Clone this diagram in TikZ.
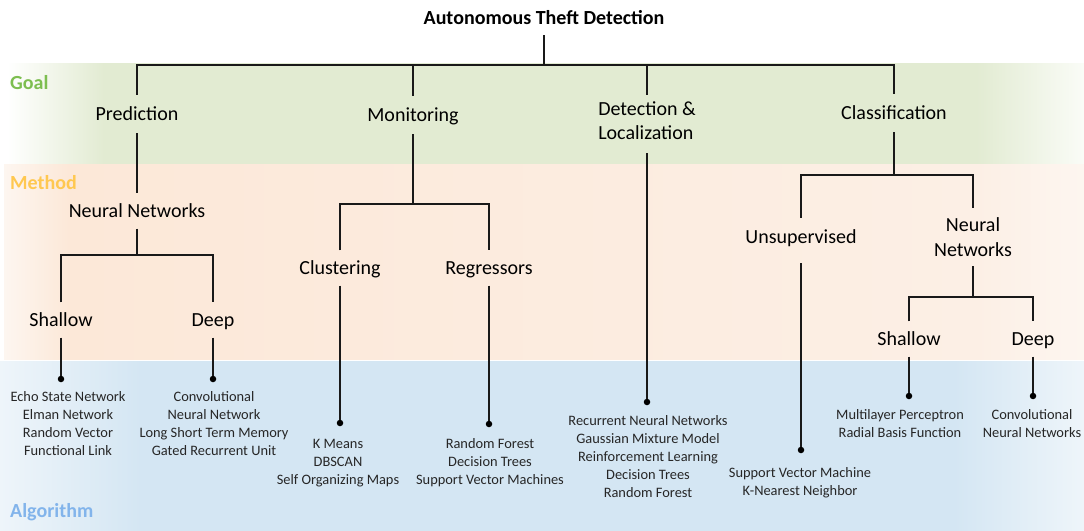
\documentclass[tikz,border=0pt]{standalone}
\usepackage{fontspec}
\setmainfont{Carlito}
\definecolor{goalc}{RGB}{125,190,80}
\definecolor{methodc}{RGB}{255,200,80}
\definecolor{algoc}{RGB}{130,180,235}
\definecolor{goalband}{RGB}{226,235,210}
\definecolor{goalfade}{RGB}{250,252,247}
\definecolor{methodL}{RGB}{252,232,216}
\definecolor{methodR}{RGB}{252,239,229}
\definecolor{methodfade}{RGB}{253,246,240}
\definecolor{algoband}{RGB}{212,230,243}
\definecolor{algofade}{RGB}{238,245,250}
% horizontal colour runs of the three bands; TikZ maps 25bp..75bp onto the band's width
\pgfdeclarehorizontalshading{goalsh}{100bp}{color(0bp)=(white); color(25bp)=(white); color(29.5bp)=(goalband); color(70bp)=(goalband); color(75bp)=(goalfade); color(100bp)=(goalfade)}
\pgfdeclarehorizontalshading{methodsh}{100bp}{color(0bp)=(methodfade); color(25bp)=(methodfade); color(28bp)=(methodL); color(70bp)=(methodR); color(75bp)=(methodfade); color(100bp)=(methodfade)}
\pgfdeclarehorizontalshading{algosh}{100bp}{color(0bp)=(algofade); color(25bp)=(algofade); color(31.5bp)=(algoband); color(69bp)=(algoband); color(75bp)=(algofade); color(100bp)=(algofade)}
\begin{document}
\begin{tikzpicture}[x=1pt,y=-1pt,
  conn/.style={draw=black!90,line width=1.7pt},
  ttl/.style={inner sep=0,font=\fontsize{20}{24}\bfseries\selectfont,text height=15pt,text depth=2pt,minimum height=34pt},
  goal/.style={inner sep=0,font=\fontsize{20}{24}\selectfont,text height=15pt,text depth=2pt,minimum height=38pt},
  mid/.style={inner sep=0,font=\fontsize{20}{24}\selectfont,text height=15pt,text depth=2pt,minimum height=35pt},
  twoline/.style={inner sep=0,font=\fontsize{20}{24}\selectfont,minimum height=58pt},
  leaf/.style={inner sep=0,align=center,font=\fontsize{14.4}{18}\selectfont,text=black!85},
  dot/.style={circle,fill=black,inner sep=0,minimum size=6.5pt},
  bandlbl/.style={inner sep=0,anchor=west,font=\fontsize{20}{24}\bfseries\selectfont}]
\useasboundingbox (0,0) rectangle (1084,530);

% background bands
\shade[shading=goalsh] (7,63) rectangle (1084,163);
\shade[shading=methodsh] (4,164.5) rectangle (1084,359);
\shade[shading=algosh] (0,361) rectangle (1084,530);

% band labels
\node[bandlbl,text=goalc] (lgoal) at (10,83) {Goal};
\node[bandlbl,text=methodc] (lmethod) at (10,183) {Method};
\node[bandlbl,text=algoc] (lalgo) at (10,512) {Algorithm};

% root and goals
\node[ttl] (title) at (544,18) {Autonomous Theft Detection};
\coordinate (top) at (544,65);
\node[goal] (pred) at (137,114) {Prediction};
\node[goal] (mon) at (413,115) {Monitoring};
\node[twoline,align=left,minimum height=52pt] (det) at (647,121) {Detection \&\\Localization};
\node[goal] (cls) at (894,113) {Classification};
\draw[conn] (title) -- (top);
\draw[conn] (pred.north) |- (top) -| (cls.north);
\draw[conn] (mon.north) -- (mon.north |- top);
\draw[conn] (det.north) -- (det.north |- top);

% prediction branch
\node[mid] (nn1) at (137,211) {Neural Networks};
\coordinate (b1) at (137,255);
\node[mid] (sh1) at (61,320) {Shallow};
\node[mid] (dp1) at (213,320) {Deep};
\draw[conn] (pred) -- (nn1);
\draw[conn] (nn1) -- (b1);
\draw[conn] (sh1.north) |- (b1) -| (dp1.north);
\node[dot] (d1) at (61,379) {};
\node[dot] (d2) at (213,379) {};
\draw[conn] (sh1) -- (d1);
\draw[conn] (dp1) -- (d2);
\node[leaf] (l1) at (68,424) {Echo State Network\\Elman Network\\Random Vector\\Functional Link};
\node[leaf] (l2) at (214,424) {Convolutional\\Neural Network\\Long Short Term Memory\\Gated Recurrent Unit};

% monitoring branch
\coordinate (b2) at (413,204);
\node[mid] (clu) at (340,268) {Clustering};
\node[mid] (reg) at (489,268) {Regressors};
\draw[conn] (mon) -- (b2);
\draw[conn] (clu.north) |- (b2) -| (reg.north);
\node[dot] (d3) at (340,423) {};
\node[dot] (d4) at (489,424) {};
\draw[conn] (clu) -- (d3);
\draw[conn] (reg) -- (d4);
\node[leaf] (l3) at (338,463) {K Means\\DBSCAN\\Self Organizing Maps};
\node[leaf] (l4) at (490,463) {Random Forest\\Decision Trees\\Support Vector Machines};

% detection branch
\node[dot] (d5) at (647,402) {};
\draw[conn] ([yshift=-6pt]det.south) -- (d5);
\node[leaf] (l5) at (648,457) {Recurrent Neural Networks\\Gaussian Mixture Model\\Reinforcement Learning\\Decision Trees\\Random Forest};

% classification branch
\coordinate (b3) at (894,175);
\node[mid,minimum height=38pt] (uns) at (801,237) {Unsupervised};
\node[twoline,align=center,font=\fontsize{20}{25}\selectfont] (nn2) at (973,237) {Neural\\Networks};
\draw[conn] (cls) -- (b3);
\draw[conn] (uns.north) |- (b3) -| (nn2.north);
\coordinate (b4) at (973,297);
\draw[conn] (nn2) -- (b4);
\node[mid] (sh2) at (909,339) {Shallow};
\node[mid] (dp2) at (1033,339) {Deep};
\draw[conn] (sh2.north) |- (b4) -| (dp2.north);
\node[dot] (d6) at (801,450) {};
\node[dot] (d7) at (909,396) {};
\node[dot] (d8) at (1033,396) {};
\draw[conn] ([yshift=-7pt]uns.south) -- (d6);
\draw[conn] (sh2) -- (d7);
\draw[conn] (dp2) -- (d8);
\node[leaf] (l6) at (800,483) {Support Vector Machine\\K-Nearest Neighbor};
\node[leaf] (l7) at (900,424) {Multilayer Perceptron\\Radial Basis Function};
\node[leaf] (l8) at (1032,424) {Convolutional\\Neural Networks};
\end{tikzpicture}
\end{document}
